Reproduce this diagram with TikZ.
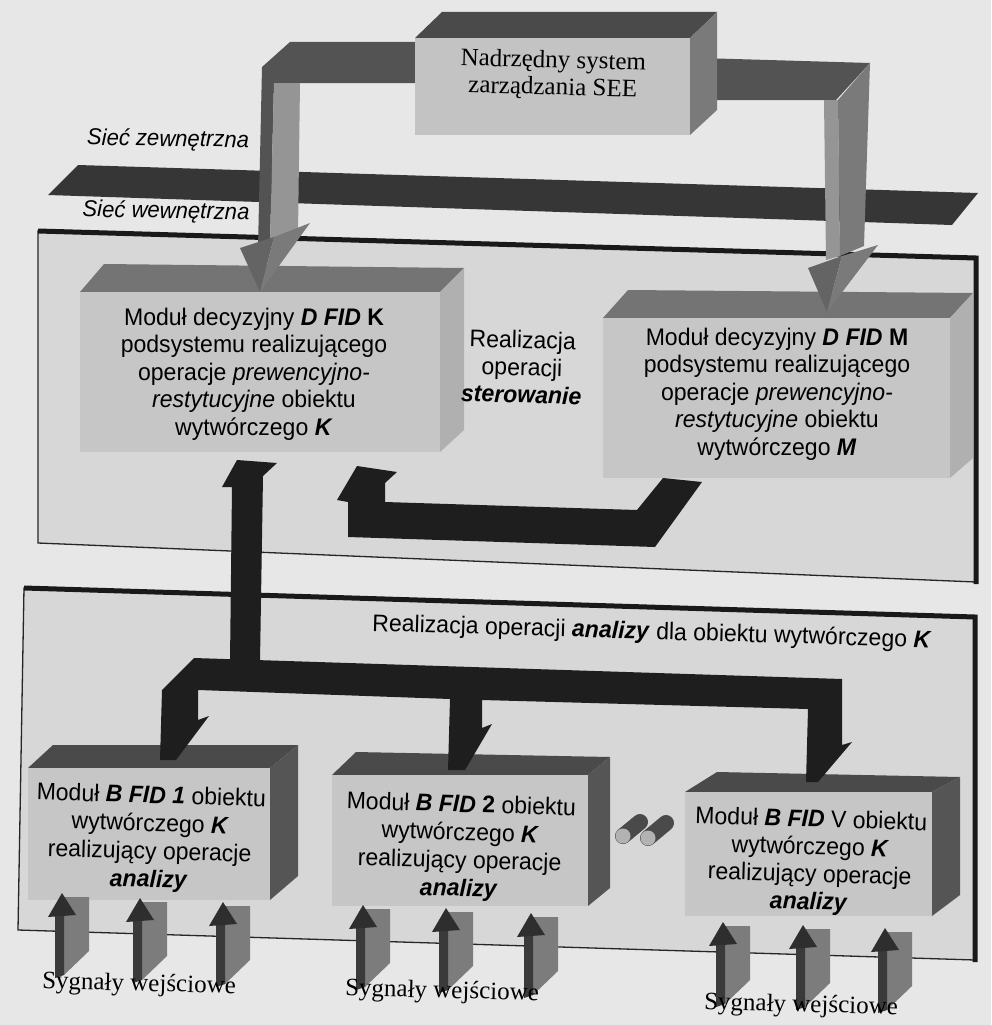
\documentclass[tikz,border=0pt]{standalone}
\usepackage{fontspec}
\setmainfont{Liberation Serif}
\newfontfamily\narrowsans{Liberation Sans}[FakeStretch=0.96]
\newfontfamily\plainserif{Liberation Serif}

\definecolor{paper}{HTML}{E7E7E7}
\definecolor{panelgrey}{HTML}{D7D7D7}
\definecolor{frontgrey}{HTML}{C6C6C6}
\definecolor{topgrey}{HTML}{747474}
\definecolor{sidegrey}{HTML}{B0B0B0}
\definecolor{darktop}{HTML}{4A4A4A}
\definecolor{darkside}{HTML}{555555}
\definecolor{bandgrey}{HTML}{363636}
\definecolor{pipedark}{HTML}{535353}
\definecolor{pipelight}{HTML}{959595}
\definecolor{pipemid}{HTML}{7A7A7A}
\definecolor{busblack}{HTML}{1E1E1E}
\definecolor{sigbody}{HTML}{7C7C7C}
\definecolor{sigdark}{HTML}{3A3A3A}

\begin{document}
\begin{tikzpicture}[x=1pt,y=-1pt,
  modtext/.style={align=center,inner sep=0pt,rotate=-1.7,
    font=\narrowsans\fontsize{24}{27.5}\selectfont},
  seriftext/.style={align=center,inner sep=0pt,rotate=-1.5,
    font=\plainserif\fontsize{25}{27}\selectfont},
  netlabel/.style={inner sep=0pt,rotate=-1,
    font=\narrowsans\itshape\fontsize{23}{26}\selectfont},
  panelfill/.style={fill=panelgrey,draw=black!85,line width=1.3pt},
  heavyedge/.style={draw=black!90,line width=5pt},
  sigarrow/.pic={
    \fill[sigbody] (2,4) -- (27,4) -- (27,58) -- (2,82) -- cycle;
    \fill[sigdark] (-7,22) -- (2,22) -- (2,82) -- (-7,85) -- cycle;
    \fill[sigdark!80!black] (-14,24) -- (0,0) -- (14,22) -- cycle;
  }]

% page
\fill[paper] (0,0) rectangle (991,1025);
\useasboundingbox (0,0) rectangle (991,1025);

% upper panel (decision level)
\path[panelfill] (38,231) -- (976,258) -- (976,582) -- (38,543) -- cycle;
\draw[heavyedge] (38,231) -- (976,258) -- (976,584);

% lower panel (analysis level)
\path[panelfill] (24,588) -- (975,617) -- (975,960) -- (18,930) -- cycle;
\draw[heavyedge] (24,588) -- (975,617) -- (975,962);

% network band
\fill[bandgrey] (48,195) -- (78,165) -- (978,193) -- (952,225) -- cycle;

% right supervisory link
\fill[pipedark] (700,58) -- (870,63) -- (836,100) -- (700,100) -- cycle;
\fill[pipelight] (824,100) -- (838,100) -- (840,256) -- (826,260) -- cycle;
\fill[pipemid] (838,100) -- (870,63) -- (864,246) -- (840,256) -- cycle;

% left supervisory link
\fill[pipedark] (262,67) -- (290,42) -- (420,42) -- (420,83) -- (274,83)
  -- (270,244) -- (258,248) -- cycle;
\fill[pipelight] (274,83) -- (300,83) -- (298,234) -- (270,244) -- cycle;

% supervisory system box
\fill[darktop] (415,38) -- (442,12) -- (717,12) -- (690,38) -- cycle;
\fill[pipemid] (690,38) -- (717,12) -- (717,110) -- (690,135) -- cycle;
\fill[frontgrey!105] (415,38) rectangle (690,135);

% decision module K
\fill[topgrey] (80,292) -- (104,264) -- (464,268) -- (440,292) -- cycle;
\fill[sidegrey] (440,292) -- (464,268) -- (464,430) -- (440,452) -- cycle;
\fill[frontgrey] (80,292) rectangle (440,452);

% decision module M
\fill[topgrey] (603,318) -- (628,290) -- (973,293) -- (950,318) -- cycle;
\fill[sidegrey] (950,318) -- (973,293) -- (973,458) -- (950,478) -- cycle;
\fill[frontgrey] (603,318) rectangle (950,478);

% arrow heads of the supervisory links
\fill[pipedark!90] (240,248) -- (274,237) -- (260,292) -- cycle;
\fill[pipemid] (274,237) -- (310,223) -- (260,292) -- cycle;
\fill[pipedark!90] (808,268) -- (842,256) -- (827,312) -- cycle;
\fill[pipemid] (842,256) -- (878,245) -- (827,312) -- cycle;

% control return path M -> K
\fill[busblack] (702,482) -- (663,478) -- (637,510) -- (385,502) -- (385,483)
  -- (397,472) -- (357,466) -- (337,500) -- (348,502) -- (348,537)
  -- (655,547) -- cycle;

% analysis modules
\fill[darktop] (28,768) -- (53,745) -- (298,745) -- (270,768) -- cycle;
\fill[darkside] (270,768) -- (298,745) -- (298,876) -- (270,900) -- cycle;
\fill[frontgrey] (28,768) rectangle (270,900);

\fill[darktop] (332,775) -- (356,752) -- (610,757) -- (588,775) -- cycle;
\fill[darkside] (588,775) -- (610,757) -- (610,888) -- (588,906) -- cycle;
\fill[frontgrey] (332,775) rectangle (588,906);

\fill[darktop] (685,792) -- (717,772) -- (960,777) -- (932,792) -- cycle;
\fill[darkside] (932,792) -- (960,777) -- (960,895) -- (932,916) -- cycle;
\fill[frontgrey] (685,792) rectangle (932,916);

% trunk from the analysis bus up to module K
\fill[busblack] (230,662) -- (232,487) -- (222,487) -- (237,460) -- (277,463)
  -- (263,476) -- (260,662) -- cycle;

% analysis bus with its three drops
\fill[busblack] (194,658) -- (842,679) -- (842,745) -- (852,742) -- (818,782)
  -- (806,782) -- (808,709) -- (482,700) -- (482,728) -- (492,724)
  -- (465,770) -- (448,770) -- (450,699) -- (198,690) -- (198,720)
  -- (209,716) -- (176,760) -- (160,760) -- (162,690) -- cycle;

% ellipsis between modules
\foreach \ax/\ay/\bx/\by in {623/836/640/822, 648/838/666/823}{
  \draw[line width=16pt,line cap=round,draw=darktop] (\ax,\ay) -- (\bx,\by);
  \fill[black!30] (\ax,\ay) circle[radius=7.5];
}

% input signal arrows
\foreach \tx/\ty in {62/893,140/898,223/902,363/905,446/908,531/913,
                     723/922,803/925,885/928}{
  \pic at (\tx,\ty) {sigarrow};
}

% texts
\node[seriftext] (see) at (553,75) {Nadrzędny system\\zarządzania SEE};
\node[netlabel] (ext) at (168,140) {Sieć zewnętrzna};
\node[netlabel] (int) at (166,212) {Sieć wewnętrzna};

\node[modtext,rotate=1.7] (dk) at (254,374)
  {Moduł decyzyjny \textbf{\textit{D FID}} \textbf{K}\\
   podsystemu realizującego\\
   operacje \textit{prewencyjno-}\\
   \textit{restytucyjne} obiektu\\
   wytwórczego \textbf{\textit{K}}};
\node[modtext,rotate=1.7] (dm) at (777,394)
  {Moduł decyzyjny \textbf{\textit{D FID}} \textbf{M}\\
   podsystemu realizującego\\
   operacje \textit{prewencyjno-}\\
   \textit{restytucyjne} obiektu\\
   wytwórczego \textbf{\textit{M}}};
\node[modtext] (ster) at (522,367)
  {Realizacja\\operacji\\\textbf{\textit{sterowanie}}};

\node[modtext] (anl) at (652,633)
  {Realizacja operacji \textbf{\textit{analizy}} dla obiektu wytwórczego \textbf{\textit{K}}};

\node[modtext,font=\narrowsans\fontsize{24}{28}\selectfont] (b1) at (150,839)
  {Moduł \textbf{\textit{B FID 1}} obiektu\\
   wytwórczego \textbf{\textit{K}}\\
   realizujący operacje\\
   \textbf{\textit{analizy}}};
\node[modtext,font=\narrowsans\fontsize{24}{28}\selectfont] (b2) at (460,848)
  {Moduł \textbf{\textit{B FID}} \textbf{2} obiektu\\
   wytwórczego \textbf{\textit{K}}\\
   realizujący operacje\\
   \textbf{\textit{analizy}}};
\node[modtext] (bv) at (810,862)
  {Moduł \textbf{\textit{B FID}} V obiektu\\
   wytwórczego \textbf{\textit{K}}\\
   realizujący operacje\\
   \textbf{\textit{analizy}}};

\node[seriftext] (s1) at (139,985) {Sygnały wejściowe};
\node[seriftext] (s2) at (442,992) {Sygnały wejściowe};
\node[seriftext] (s3) at (801,1006) {Sygnały wejściowe};
\end{tikzpicture}
\end{document}
